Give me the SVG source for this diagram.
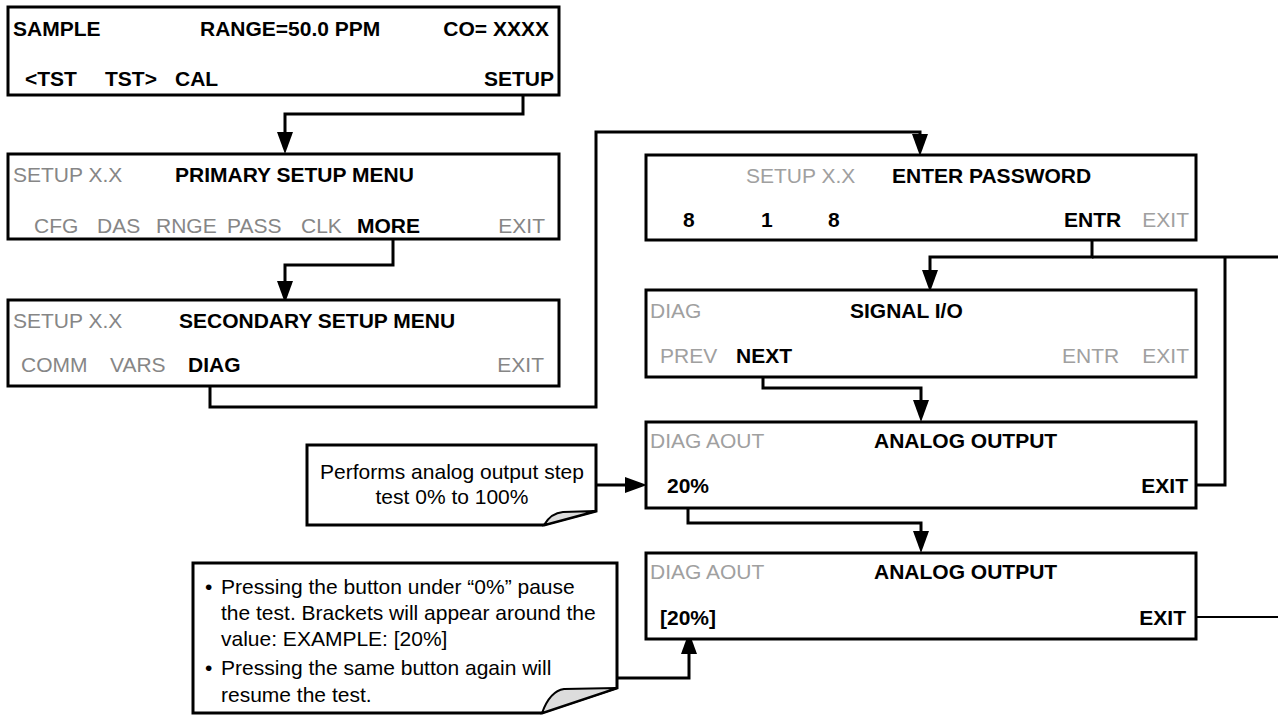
<svg xmlns="http://www.w3.org/2000/svg" width="1278" height="715" viewBox="0 0 1278 715">
<defs>
<style>
.box{fill:#fff;stroke:#000;stroke-width:3}
.b{font-family:"Liberation Sans",Arial,sans-serif;font-size:21px;font-weight:bold;fill:#000}
.g{font-family:"Liberation Sans",Arial,sans-serif;font-size:21px;fill:#868686}
.g2{font-family:"Liberation Sans",Arial,sans-serif;font-size:21px;fill:#a0a0a0}
.t{font-family:"Liberation Sans",Arial,sans-serif;font-size:21px;fill:#000}
.ln{fill:none;stroke:#000;stroke-width:3}
.note{fill:#fff;stroke:#000;stroke-width:3;stroke-linejoin:miter}
.curl{fill:#dcdcdc;stroke:#000;stroke-width:2}
</style>
<marker id="ah" viewBox="0 0 22 16" refX="10" refY="8" markerWidth="22" markerHeight="16" orient="auto" markerUnits="userSpaceOnUse">
<path d="M0,0 L22,8 L0,16 Z" fill="#000"/>
</marker>
</defs>

<g id="connectors">
<path class="ln" d="M523,95 V114 H285 V142" marker-end="url(#ah)"/>
<path class="ln" d="M393,239 V265 H285 V291" marker-end="url(#ah)"/>
<path class="ln" d="M210,386 V407 H596 V132 H920 V144" marker-end="url(#ah)"/>
<path class="ln" d="M1092,240 V257 H930 V280" marker-end="url(#ah)"/>
<path class="ln" d="M1092,257 H1278"/>
<path class="ln" d="M1196,485 H1225 V257"/>
<path class="ln" d="M763,377 V388 H921 V410" marker-end="url(#ah)"/>
<path class="ln" d="M688,508 V523 H921 V541" marker-end="url(#ah)"/>
<path class="ln" d="M596,485 H635" marker-end="url(#ah)"/>
<path class="ln" d="M615,678 H689 V644" marker-end="url(#ah)"/>
<path fill="none" stroke="#000" stroke-width="2" d="M1196,617 H1278"/>
</g>

<g id="sample">
<rect class="box" x="8" y="7" width="551" height="88"/>
<text class="b" x="13" y="36">SAMPLE</text>
<text class="b" x="200" y="36">RANGE=50.0 PPM</text>
<text class="b" x="549" y="36" text-anchor="end">CO= XXXX</text>
<text class="b" x="25" y="86">&lt;TST</text>
<text class="b" x="105" y="86">TST&gt;</text>
<text class="b" x="175" y="86">CAL</text>
<text class="b" x="554" y="86" text-anchor="end">SETUP</text>
</g>

<g id="primary">
<rect class="box" x="8" y="154" width="551" height="85"/>
<text class="g" x="13" y="182">SETUP X.X</text>
<text class="b" x="175" y="182">PRIMARY SETUP MENU</text>
<text class="g" x="34" y="233">CFG</text>
<text class="g" x="97" y="233">DAS</text>
<text class="g" x="156" y="233">RNGE</text>
<text class="g" x="227" y="233">PASS</text>
<text class="g" x="301" y="233">CLK</text>
<text class="b" x="357" y="233">MORE</text>
<text class="g" x="545" y="233" text-anchor="end">EXIT</text>
</g>

<g id="secondary">
<rect class="box" x="8" y="300" width="551" height="86"/>
<text class="g" x="13" y="328">SETUP X.X</text>
<text class="b" x="179" y="328">SECONDARY SETUP MENU</text>
<text class="g" x="21" y="372">COMM</text>
<text class="g" x="110" y="372">VARS</text>
<text class="b" x="188" y="372">DIAG</text>
<text class="g" x="544" y="372" text-anchor="end">EXIT</text>
</g>

<g id="password">
<rect class="box" x="646" y="155" width="550" height="85"/>
<text class="g2" x="746" y="183">SETUP X.X</text>
<text class="b" x="892" y="183">ENTER PASSWORD</text>
<text class="b" x="683" y="227">8</text>
<text class="b" x="761" y="227">1</text>
<text class="b" x="828" y="227">8</text>
<text class="b" x="1064" y="227">ENTR</text>
<text class="g2" x="1189" y="227" text-anchor="end">EXIT</text>
</g>

<g id="signal">
<rect class="box" x="646" y="290" width="550" height="87"/>
<text class="g2" x="650" y="318">DIAG</text>
<text class="b" x="850" y="318">SIGNAL I/O</text>
<text class="g2" x="660" y="363">PREV</text>
<text class="b" x="736" y="363">NEXT</text>
<text class="g2" x="1062" y="363">ENTR</text>
<text class="g2" x="1189" y="363" text-anchor="end">EXIT</text>
</g>

<g id="analog1">
<rect class="box" x="646" y="422" width="550" height="86"/>
<text class="g2" x="650" y="448">DIAG AOUT</text>
<text class="b" x="874" y="448">ANALOG OUTPUT</text>
<text class="b" x="667" y="493">20%</text>
<text class="b" x="1188" y="493" text-anchor="end">EXIT</text>
</g>

<g id="analog2">
<rect class="box" x="646" y="553" width="550" height="86"/>
<text class="g2" x="650" y="579">DIAG AOUT</text>
<text class="b" x="874" y="579">ANALOG OUTPUT</text>
<text class="b" x="660" y="625">[20%]</text>
<text class="b" x="1186" y="625" text-anchor="end">EXIT</text>
</g>

<g id="note1">
<path class="note" d="M307,445 H596 V511 L544,525 H307 Z"/>
<path class="curl" d="M544,525 Q551,513 563,512 L596,511 Z"/>
<text class="t" x="452" y="479" text-anchor="middle">Performs analog output step</text>
<text class="t" x="452" y="504" text-anchor="middle">test 0% to 100%</text>
</g>

<g id="note2">
<path class="note" d="M193,563 H617 V688 L542,713 H193 Z"/>
<path class="curl" d="M542,713 Q550,691 564,689 L617,688 Z"/>
<text class="t" x="205" y="594">•</text>
<text class="t" x="221" y="594">Pressing the button under “0%”  pause</text>
<text class="t" x="221" y="620">the test. Brackets will appear around the</text>
<text class="t" x="221" y="646">value: EXAMPLE: [20%]</text>
<text class="t" x="205" y="675">•</text>
<text class="t" x="221" y="675">Pressing the same button again will</text>
<text class="t" x="221" y="702">resume the test.</text>
</g>
</svg>
